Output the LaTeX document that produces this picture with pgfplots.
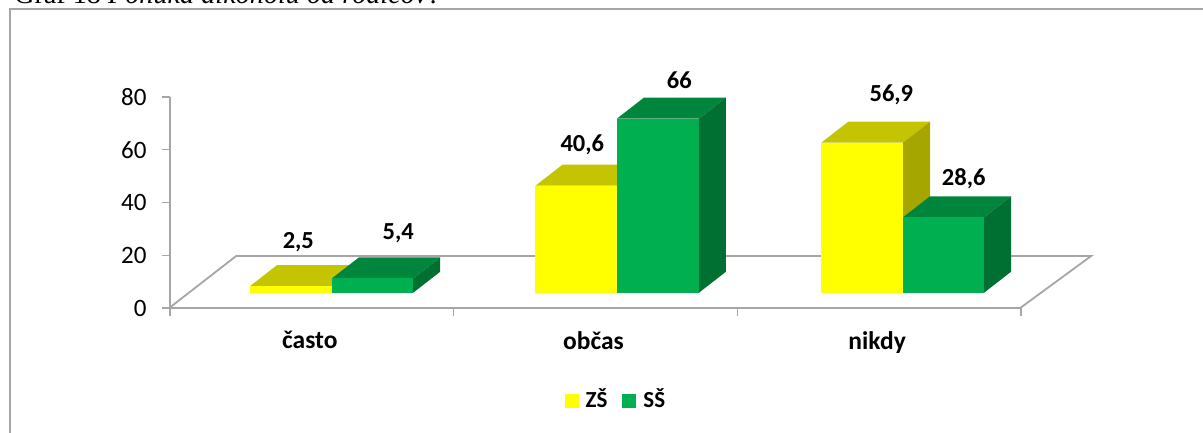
\documentclass[border=0pt]{standalone}
\usepackage{fontspec}
\setmainfont{Carlito}
\newfontfamily\capfont{Liberation Serif}
\usepackage{pgfplots}
\pgfplotsset{compat=1.18}
\definecolor{axisgray}{RGB}{166,166,166}
\definecolor{ylfront}{RGB}{255,255,0}
\definecolor{yltop}{RGB}{196,196,0}
\definecolor{ylside}{RGB}{166,166,0}
\definecolor{grfront}{RGB}{0,176,80}
\definecolor{grtop}{RGB}{0,134,60}
\definecolor{grside}{RGB}{0,112,50}
\newcommand{\lblfont}{\bfseries\fontsize{24.5}{28}\selectfont}

\begin{document}
\begin{tikzpicture}[x=1pt,y=1pt]
  % page is 1203x432, origin sits on the axis corner
  \useasboundingbox (-170,-124) rectangle (1033,308);
  \draw[axisgray,line width=2pt] (-160,-130) -- (-160,299) -- (1040,299);
  \node[font=\capfont\fontsize{28.2}{32}\selectfont,anchor=base west,inner sep=0pt]
    at (-156,304) {Graf 18 \textit{Ponuka alkoholu od rodičov?}};
  \begin{axis}[
    at={(0,0)}, anchor=south west,
    scale only axis,
    width=851pt, height=211pt,
    xmin=-0.5, xmax=2.5,
    ymin=0, ymax=80,
    clip=false,
    axis lines*=left,
    axis line style={axisgray,line width=1.8pt,-},
    every axis plot/.append style={xshift=-0.8pt},
    ytick={0,20,40,60,80},
    xtick={-0.5,0.5,1.5,2.5},
    xticklabels={},
    extra x ticks={0,1,2},
    extra x tick labels={často,občas,nikdy},
    extra x tick style={
      major tick length=0pt,
      tick style={draw=none},
      xticklabel style={font=\bfseries\fontsize{25.5}{28}\selectfont,yshift=-20pt,xshift=-2pt}},
    major tick length=8pt,
    ytick style={axisgray,line width=1.2pt},
    xtick style={axisgray,line width=1.2pt},
    tick align=outside,
    ticklabel style={font=\fontsize{25}{28}\selectfont},
    yticklabel style={xshift=-12pt},
    /pgf/number format/assume math mode=true,
    legend style={at={(axis cs:1.0717,-34.5)},anchor=center,draw=none,fill=none,
      legend columns=2,font=\bfseries\fontsize{23}{26}\selectfont,
      /tikz/every odd column/.append style={column sep=5pt},
      /tikz/every even column/.append style={column sep=13pt},
      inner sep=0pt},
  ]
    % floor of the 3D wall
    \addplot[axisgray,line width=1.8pt,forget plot] coordinates
      {(-0.5,0) (-0.2640,19.7) (2.7500,19.7) (2.5,0)};

    % often: yellow
    \addplot[fill=yltop,draw=none,yshift=15.3pt,forget plot] coordinates
      {(-0.2150,2.5) (0.0732,2.5) (0.1684,10.46) (-0.1198,10.46)} -- cycle;
    \addplot[ybar,bar width=81.7pt,fill=ylfront,draw=none,yshift=15.3pt,
      legend image code/.code={\fill[ylfront] (-4pt,-24pt) rectangle (10pt,-10pt);}]
      coordinates {(-0.0709,2.5)};
    \addlegendentry{ZŠ}
    % often: green
    \addplot[fill=grtop,draw=none,yshift=15.3pt,forget plot] coordinates
      {(0.0732,5.4) (0.3602,5.4) (0.4554,13.36) (0.1684,13.36)} -- cycle;
    \addplot[fill=grside,draw=none,yshift=15.3pt,forget plot] coordinates
      {(0.3602,0) (0.3602,5.4) (0.4554,13.36) (0.4554,7.96)} -- cycle;
    \addplot[ybar,bar width=81.7pt,fill=grfront,draw=none,yshift=15.3pt,
      legend image code/.code={\fill[grfront] (-4pt,-24pt) rectangle (10pt,-10pt);}]
      coordinates {(0.2167,5.4)};
    \addlegendentry{SŠ}

    % sometimes
    \addplot[fill=yltop,draw=none,yshift=15.3pt,forget plot] coordinates
      {(0.7915,40.6) (1.0783,40.6) (1.1735,48.56) (0.8867,48.56)} -- cycle;
    \addplot[ybar,bar width=81.7pt,fill=ylfront,draw=none,yshift=15.3pt,forget plot]
      coordinates {(0.9349,40.6)};
    \addplot[fill=grtop,draw=none,yshift=15.3pt,forget plot] coordinates
      {(1.0783,66) (1.3675,66) (1.4627,73.96) (1.1735,73.96)} -- cycle;
    \addplot[fill=grside,draw=none,yshift=15.3pt,forget plot] coordinates
      {(1.3675,0) (1.3675,66) (1.4627,73.96) (1.4627,7.96)} -- cycle;
    \addplot[ybar,bar width=81.7pt,fill=grfront,draw=none,yshift=15.3pt,forget plot]
      coordinates {(1.2229,66)};

    % never
    \addplot[fill=yltop,draw=none,yshift=15.3pt,forget plot] coordinates
      {(1.7989,56.9) (2.0871,56.9) (2.1823,64.86) (1.8941,64.86)} -- cycle;
    \addplot[fill=ylside,draw=none,yshift=15.3pt,forget plot] coordinates
      {(2.0871,0) (2.0871,56.9) (2.1823,64.86) (2.1823,7.96)} -- cycle;
    \addplot[ybar,bar width=81.7pt,fill=ylfront,draw=none,yshift=15.3pt,forget plot]
      coordinates {(1.9430,56.9)};
    \addplot[fill=grtop,draw=none,yshift=15.3pt,forget plot] coordinates
      {(2.0871,28.6) (2.3727,28.6) (2.4679,36.56) (2.1823,36.56)} -- cycle;
    \addplot[fill=grside,draw=none,yshift=15.3pt,forget plot] coordinates
      {(2.3727,0) (2.3727,28.6) (2.4679,36.56) (2.4679,7.96)} -- cycle;
    \addplot[ybar,bar width=81.7pt,fill=grfront,draw=none,yshift=15.3pt,forget plot]
      coordinates {(2.2299,28.6)};

    % data labels
    \node[font=\lblfont,inner sep=0pt] at (axis cs:-0.0476,25.0) {2,5};
    \node[font=\lblfont,inner sep=0pt] at (axis cs:0.3049,28.2) {5,4};
    \node[font=\lblfont,inner sep=0pt] at (axis cs:0.9535,62.0) {40,6};
    \node[font=\lblfont,inner sep=0pt] at (axis cs:1.2955,86.3) {66};
    \node[font=\lblfont,inner sep=0pt] at (axis cs:2.0430,80.7) {56,9};
    \node[font=\lblfont,inner sep=0pt] at (axis cs:2.2980,48.9) {28,6};
  \end{axis}
\end{tikzpicture}
\end{document}
